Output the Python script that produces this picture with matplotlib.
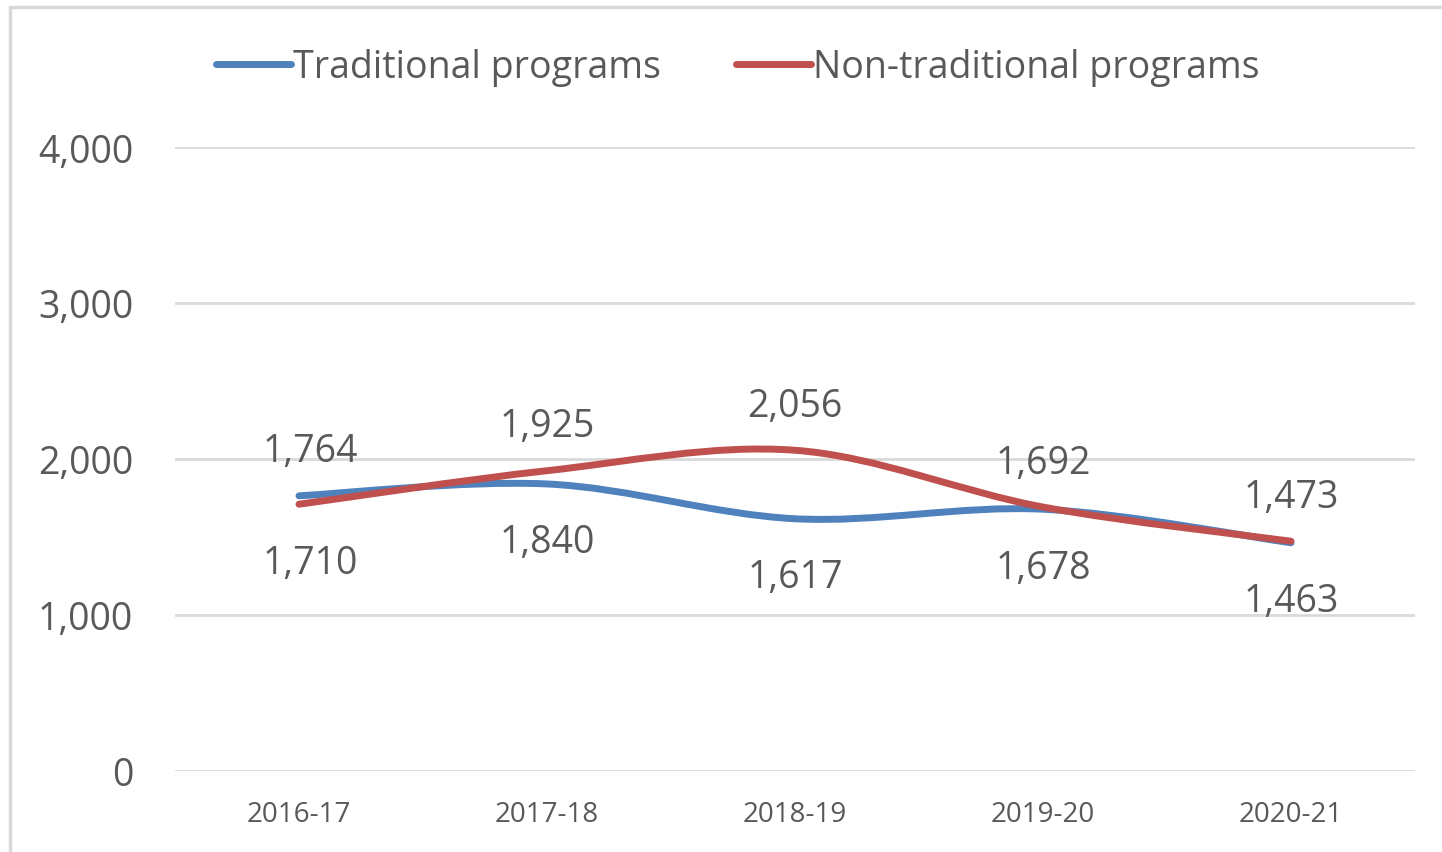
import matplotlib
matplotlib.use("Agg")
import matplotlib.pyplot as plt
from matplotlib.path import Path
from matplotlib.patches import PathPatch, Rectangle
from matplotlib.lines import Line2D
from matplotlib import font_manager
import numpy as np

categories = ["2016-17", "2017-18", "2018-19", "2019-20", "2020-21"]
traditional = [1764, 1840, 1617, 1678, 1463]
non_traditional = [1710, 1925, 2056, 1692, 1473]
yticks = [0, 1000, 2000, 3000, 4000]
ytick_labels = ["0", "1,000", "2,000", "3,000", "4,000"]
series_names = ["Traditional programs", "Non-traditional programs"]
# label above (+1) or below (-1) each point
trad_pos = [1, -1, -1, -1, -1]
non_pos = [-1, 1, 1, 1, 1]

available = {f.name for f in font_manager.fontManager.ttflist}
family = "Liberation Sans Narrow" if "Liberation Sans Narrow" in available else "Open Sans"
plt.rcParams["font.family"] = [family, "DejaVu Sans"]

BLUE = "#4F81BD"
RED = "#C0504D"
TXT = "#595959"
GRID = "#D9D9D9"

fig = plt.figure(figsize=(14.42, 8.53), dpi=100)
fig.patches.append(Rectangle((10 / 1442, -0.1), 1.2, (853 - 8) / 853 + 0.1,
                             transform=fig.transFigure, fill=False,
                             edgecolor=GRID, linewidth=2.5))
ax = fig.add_axes([175 / 1442, 1 - 772 / 853, (1415 - 175) / 1442, (772 - 148) / 853])

x = np.arange(len(categories))


def smooth_path(xs, ys):
    pts = np.column_stack([xs, ys]).astype(float)
    n = len(pts)
    verts = [pts[0]]
    codes = [Path.MOVETO]
    for i in range(n - 1):
        p0 = pts[i - 1] if i > 0 else pts[i]
        p1 = pts[i]
        p2 = pts[i + 1]
        p3 = pts[i + 2] if i + 2 < n else pts[i + 1]
        c1 = p1 + (p2 - p0) / 6.0
        c2 = p2 - (p3 - p1) / 6.0
        verts += [c1, c2, p2]
        codes += [Path.CURVE4] * 3
    return Path(verts, codes)


for vals, col in [(traditional, BLUE), (non_traditional, RED)]:
    ax.add_patch(PathPatch(smooth_path(x, vals), facecolor="none", edgecolor=col,
                           linewidth=5, capstyle="round", joinstyle="round", zorder=3))

for vals, pos in [(traditional, trad_pos), (non_traditional, non_pos)]:
    for xi, v, p in zip(x, vals, pos):
        dx = 8 if xi == 0 else 0
        ax.annotate(f"{v:,}", (xi, v), xytext=(dx, 32 if p > 0 else -42),
                    textcoords="offset points", ha="center", va="center",
                    fontsize=27, color=TXT)

ax.set_xlim(-0.5, len(categories) - 0.5)
ax.set_ylim(0, 4000)
ax.set_yticks(yticks)
ax.set_yticklabels(ytick_labels)
ax.set_xticks(x)
ax.set_xticklabels(categories)
ax.tick_params(axis="y", length=0, pad=30, labelsize=27, labelcolor=TXT)
ax.tick_params(axis="x", length=0, pad=21, labelsize=20, labelcolor=TXT)
ax.grid(axis="y", color=GRID, linewidth=2)
ax.set_axisbelow(True)
for s in ax.spines.values():
    s.set_visible(False)

handles = [Line2D([], [], color=BLUE, linewidth=5, solid_capstyle="round"),
           Line2D([], [], color=RED, linewidth=5, solid_capstyle="round")]
fig.legend(handles, series_names, loc="center", bbox_to_anchor=(738 / 1442, 1 - 68 / 853),
           ncol=2, frameon=False, fontsize=27, labelcolor=TXT, handlelength=2.0,
           handletextpad=0.05, columnspacing=2.0)

fig.savefig("out.png", dpi=100)
